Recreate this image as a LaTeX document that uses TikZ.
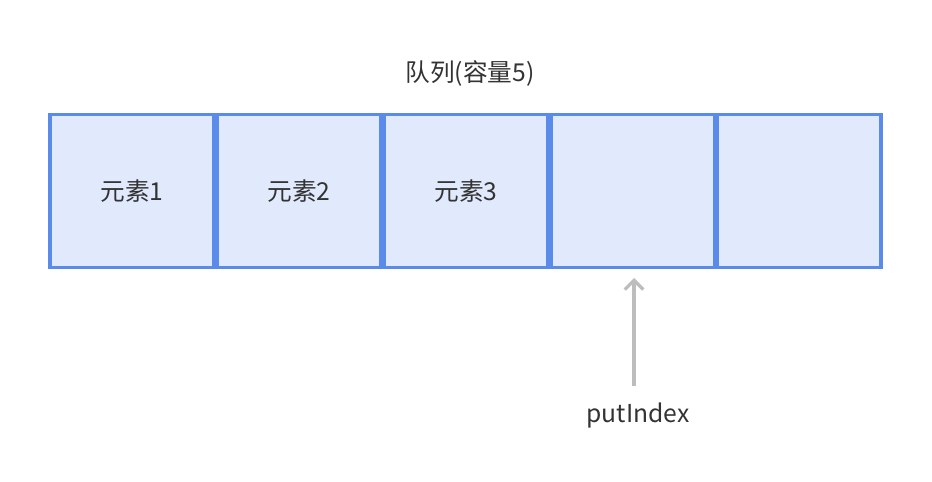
\documentclass[tikz,border=0pt]{standalone}
\usepackage{fontspec}
\setmainfont{Noto Sans CJK SC}
\usetikzlibrary{arrows.meta}
\definecolor{cellblue}{HTML}{E1E9FC}
\definecolor{edgeblue}{HTML}{5A8BEA}
\definecolor{arrowgray}{HTML}{BDBDBD}
\definecolor{textdark}{HTML}{333333}
\tikzset{
  cell/.style={draw=edgeblue, fill=cellblue, line width=2.4pt, minimum width=123pt, minimum height=115pt, inner sep=0pt, text=textdark, font=\fontsize{18.5}{22}\selectfont},
  label/.style={text=textdark, font=\fontsize{18.5}{22}\selectfont}
}
\begin{document}
\begin{tikzpicture}[x=0.75pt,y=-0.75pt]
        \useasboundingbox (0,0) rectangle (932,482);

        % Title
        \node[label] (title) at (470,73) {队列(容量5)};

        % Cells
        \node[cell] (c1) at (132,191) {元素1};
        \node[cell] (c2) at (299,191) {元素2};
        \node[cell] (c3) at (466,191) {元素3};
        \node[cell] (c4) at (633,191) {};
        \node[cell] (c5) at (799,191) {};

        % Pointer
        \node[label] (put) at (638,416) {putIndex};
        \coordinate (tip) at (634,278);
        \draw[arrowgray, line width=2.4pt, -{Straight Barb[length=7pt,width=14pt]}] (634,386) -- (tip);
\end{tikzpicture}
\end{document}
